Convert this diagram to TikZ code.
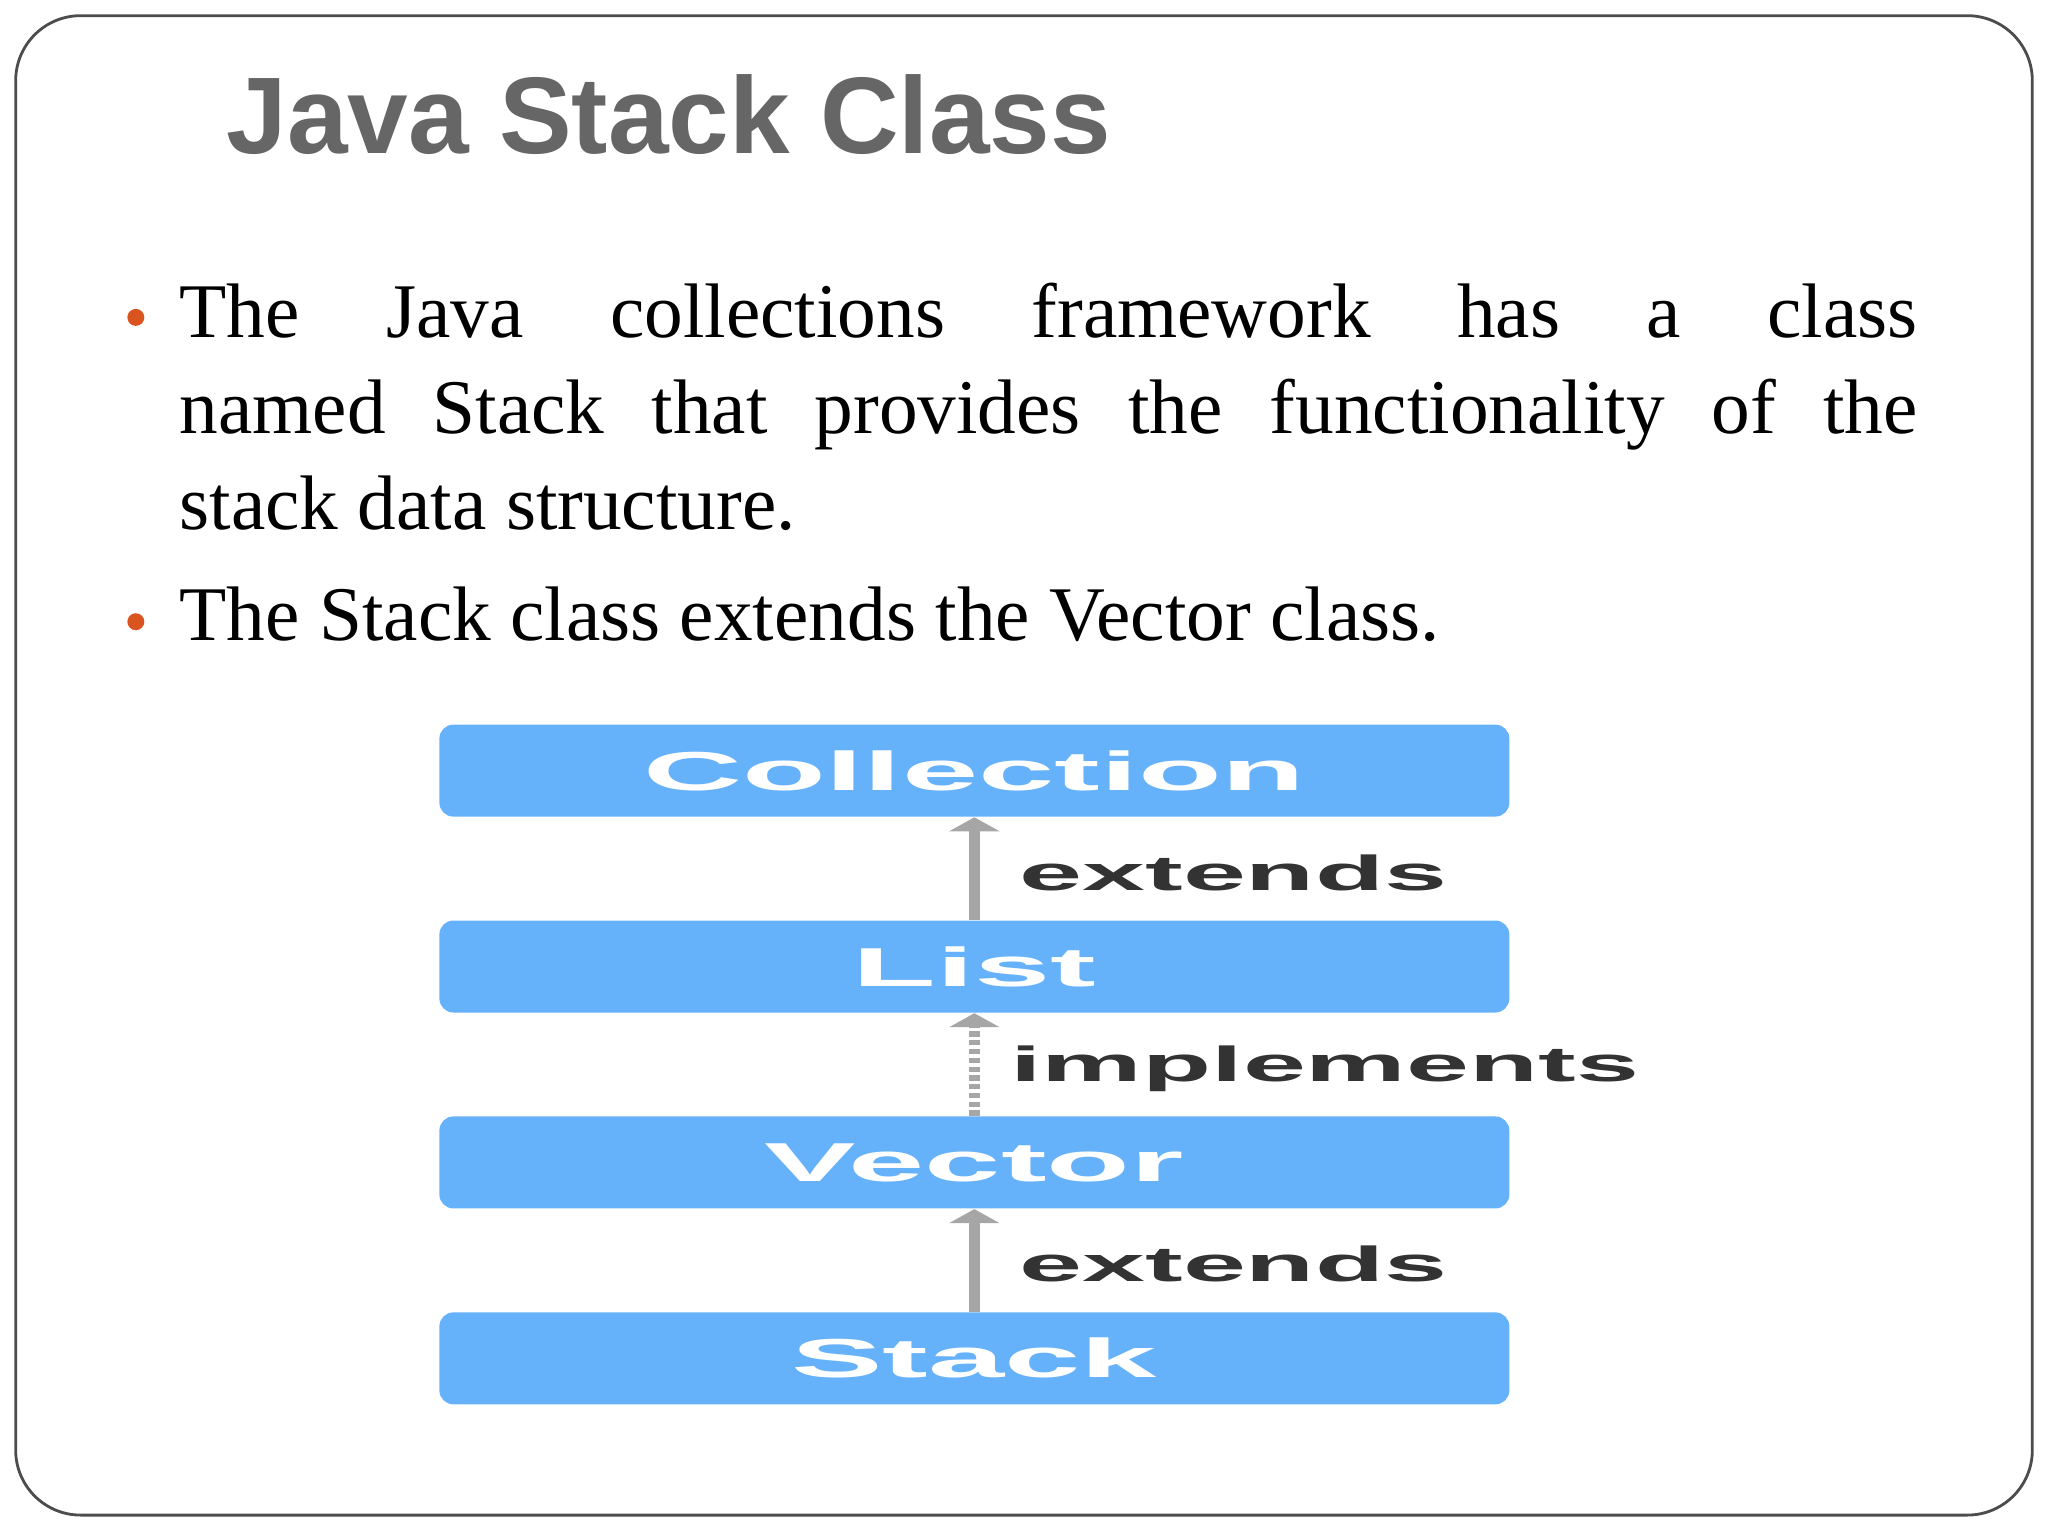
\documentclass[tikz,border=0pt]{standalone}
\usepackage{fontspec}
\usetikzlibrary{arrows.meta}
\setmainfont{Liberation Serif}
\newfontfamily\sansb{Liberation Sans}
\definecolor{boxblue}{HTML}{66B2FA}
\definecolor{titlegray}{HTML}{666666}
\definecolor{bulletor}{HTML}{D9541E}
\definecolor{arrgray}{HTML}{A6A6A6}
\tikzset{
  cls/.style={fill=boxblue, rounded corners=4pt, minimum width=10.70cm, minimum height=0.92cm, inner sep=0pt, text=white, font=\sansb\bfseries\fontsize{15.6}{16}\selectfont},
  rel/.style={anchor=west, inner sep=0pt, text=black!80, font=\sansb\bfseries\fontsize{14}{15}\selectfont},
  ext/.style={draw=arrgray, line width=3pt, -{Triangle[width=0.5cm,length=0.14cm]}},
  imp/.style={ext, dash pattern=on 1.5pt off 1pt},
}
\begin{document}
\begin{tikzpicture}[x=0.013061cm,y=-0.013061cm]
\useasboundingbox (0,0) rectangle (1568,1176);
\draw[black!70, line width=0.8pt, rounded corners=0.65cm] (12,12) rectangle (1556,1160);
\node[anchor=west, inner sep=0pt, text=titlegray, font=\sansb\bfseries\fontsize{31}{36}\selectfont] (title) at (173,88) {Java Stack Class};
\fill[bulletor] (104,243) circle (6.5);
\fill[bulletor] (104,476) circle (6.5);
\node[anchor=north west, inner sep=0pt, text width=17.38cm, align=justify, font=\fontsize{22}{27.3}\selectfont] (p1) at (137,216) {The Java collections framework has a class\linebreak named Stack that provides the functionality of the\linebreak stack data structure.};
\node[anchor=north west, inner sep=0pt, font=\fontsize{22}{27.3}\selectfont] (p2) at (137,449) {The Stack class extends the Vector class.};
\node[cls] (c) at (746,590) {\scalebox{2.5}[1]{Collection}};
\node[cls] (l) at (746,740) {\scalebox{2.5}[1]{List}};
\node[cls] (v) at (746,890) {\scalebox{2.5}[1]{Vector}};
\node[cls] (s) at (746,1040) {\scalebox{2.5}[1]{Stack}};
\draw[ext] (l.north) -- (c.south);
\draw[imp] (v.north) -- (l.south);
\draw[ext] (s.north) -- (v.south);
\node[rel] (e1) at (780,668) {\scalebox{2.3}[1]{extends}};
\node[rel] (i1) at (773,818) {\scalebox{2.3}[1]{implements}};
\node[rel] (e2) at (780,968) {\scalebox{2.3}[1]{extends}};
\end{tikzpicture}
\end{document}
